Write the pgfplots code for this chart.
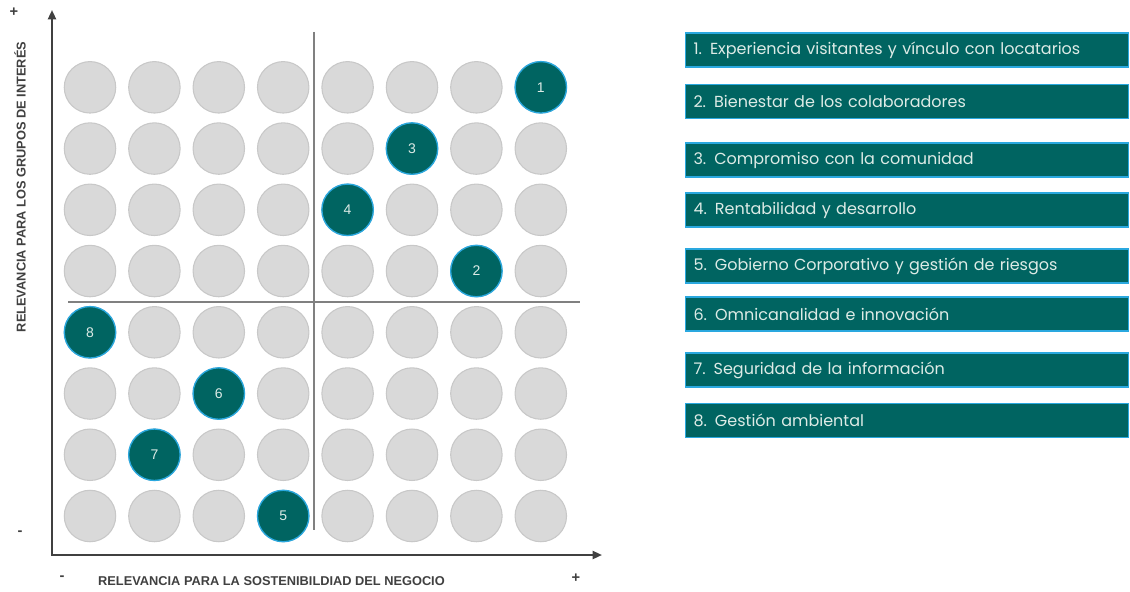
\documentclass[border=0pt]{standalone}
\usepackage{fontspec}
\setmainfont{Liberation Sans}
\newfontfamily\boxfont{Poppins}
\usepackage{pgfplots}
\pgfplotsset{compat=1.18}
\usetikzlibrary{arrows.meta}
\definecolor{tealc}{HTML}{006461}
\definecolor{circlegray}{HTML}{D9D9D9}
\definecolor{circleedge}{HTML}{C8C8C8}
\definecolor{ringblue}{HTML}{2AA8DF}
\definecolor{boxtext}{HTML}{DDEBE6}
\definecolor{axisdark}{HTML}{404040}
\definecolor{quadgray}{HTML}{808080}
\newcommand\PX[1]{(#1-90)/64.4+1}
\newcommand\PY[1]{(516-#1)/61.24+1}
\pgfplotstableread{
x y label
8 8 1
7 5 2
6 7 3
5 6 4
4 1 5
3 3 6
2 2 7
1 4 8
}\topics
\begin{document}
\begin{tikzpicture}
\begin{axis}[x=48.3pt, y=45.93pt, xmin=-0.3975, xmax=17.1491, ymin=-0.2247, ymax=9.4259,
  hide axis, clip=false]
\path (rel axis cs:0,0) rectangle (rel axis cs:1,1);
% quadrant lines
\draw[quadgray, line width=1.2pt] (axis cs:{\PX{314}},{\PY{32}}) -- (axis cs:{\PX{314}},{\PY{530}});
\draw[quadgray, line width=1.2pt] (axis cs:{\PX{68}},{\PY{302}}) -- (axis cs:{\PX{580}},{\PY{302}});
% axes arrows
\draw[axisdark, line width=1.6pt, {Triangle[length=7pt,width=6pt]}-{Triangle[length=7pt,width=6pt]}]
  (axis cs:{\PX{52}},{\PY{10}}) |- (axis cs:{\PX{602}},{\PY{555}});
% grid of circles
\addplot[only marks, mark=*, mark size=19.3pt, mark options={fill=circlegray, draw=circleedge, line width=0.8pt}] coordinates {
(1,1)(2,1)(3,1)(4,1)(5,1)(6,1)(7,1)(8,1)
(1,2)(2,2)(3,2)(4,2)(5,2)(6,2)(7,2)(8,2)
(1,3)(2,3)(3,3)(4,3)(5,3)(6,3)(7,3)(8,3)
(1,4)(2,4)(3,4)(4,4)(5,4)(6,4)(7,4)(8,4)
(1,5)(2,5)(3,5)(4,5)(5,5)(6,5)(7,5)(8,5)
(1,6)(2,6)(3,6)(4,6)(5,6)(6,6)(7,6)(8,6)
(1,7)(2,7)(3,7)(4,7)(5,7)(6,7)(7,7)(8,7)
(1,8)(2,8)(3,8)(4,8)(5,8)(6,8)(7,8)(8,8)
};
% highlighted topics
\addplot[only marks, mark=*, mark size=19.3pt, mark options={fill=tealc, draw=ringblue, line width=1pt},
  point meta=explicit symbolic, nodes near coords,
  nodes near coords style={anchor=center, text=boxtext, font=\fontsize{10.5}{12}\selectfont}]
  table[x=x, y=y, meta=label] {\topics};
% axis titles
\node[font=\bfseries\fontsize{9.6}{11}\selectfont, text=axisdark] at (axis cs:{\PX{271.5}},{\PY{581}}) {RELEVANCIA PARA LA SOSTENIBILDIAD DEL NEGOCIO};
\node[font=\bfseries\fontsize{9.6}{11}\selectfont, text=axisdark, rotate=90] at (axis cs:{\PX{20}},{\PY{187}}) {RELEVANCIA PARA LOS GRUPOS DE INTERÉS};
\node[font=\bfseries\fontsize{11}{12}\selectfont, text=axisdark] at (axis cs:{\PX{14}},{\PY{12}}) {+};
\node[font=\bfseries\fontsize{11}{12}\selectfont, text=axisdark] at (axis cs:{\PX{20}},{\PY{533}}) {-};
\node[font=\bfseries\fontsize{11}{12}\selectfont, text=axisdark] at (axis cs:{\PX{62}},{\PY{578}}) {-};
\node[font=\bfseries\fontsize{11}{12}\selectfont, text=axisdark] at (axis cs:{\PX{576}},{\PY{578}}) {+};
% legend boxes
\tikzset{lbox/.style={anchor=west, fill=tealc, draw=ringblue, line width=0.8pt, minimum height=25.5pt,
  inner xsep=6pt, text width=320pt, align=left, text=boxtext, font=\boxfont\fontsize{12}{14}\selectfont}}
\node[lbox] at (axis cs:{\PX{685}},{\PY{50}}) {1. Experiencia visitantes y vínculo con locatarios};
\node[lbox] at (axis cs:{\PX{685}},{\PY{101.5}}) {2. Bienestar de los colaboradores};
\node[lbox] at (axis cs:{\PX{685}},{\PY{160}}) {3. Compromiso con la comunidad};
\node[lbox] at (axis cs:{\PX{685}},{\PY{210}}) {4. Rentabilidad y desarrollo};
\node[lbox] at (axis cs:{\PX{685}},{\PY{266}}) {5. Gobierno Corporativo y gestión de riesgos};
\node[lbox] at (axis cs:{\PX{685}},{\PY{314}}) {6. Omnicanalidad e innovación};
\node[lbox] at (axis cs:{\PX{685}},{\PY{370}}) {7. Seguridad de la información};
\node[lbox] at (axis cs:{\PX{685}},{\PY{420.5}}) {8. Gestión ambiental};
\end{axis}
\end{tikzpicture}
\end{document}
